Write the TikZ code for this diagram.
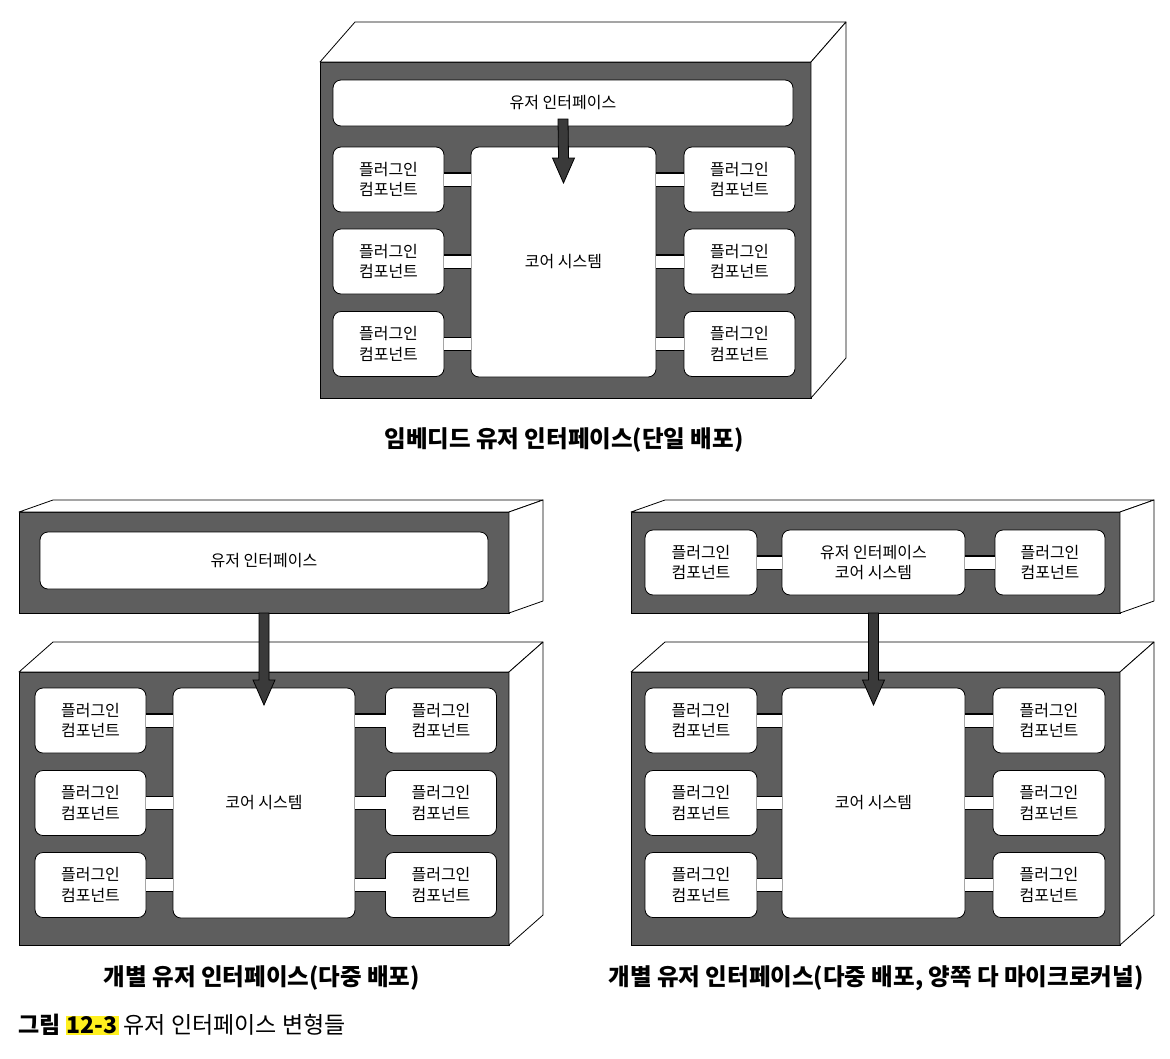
\documentclass[tikz,border=0pt]{standalone}
\usepackage{fontspec}
\setmainfont{Noto Sans CJK KR}
\usetikzlibrary{calc}
\definecolor{facegray}{RGB}{94,94,94}
\definecolor{arrowgray}{RGB}{58,58,58}
\definecolor{hlyellow}{RGB}{255,240,30}
\tikzset{
  frontface/.style={draw=black, line width=0.8pt, fill=facegray, inner sep=0pt, outer sep=0pt, anchor=north west},
  sideface/.style={draw=black, line width=0.8pt, fill=white, line join=round},
  comp/.style={draw=black, line width=0.8pt, fill=white, rounded corners=8pt, align=center,
    font=\fontsize{16}{20.5}\selectfont, inner sep=0pt, outer sep=0pt},
  plug/.style={comp, minimum width=111pt, minimum height=65pt},
  link/.style={draw=black, line width=1.1pt, double=white, double distance=12pt},
  fatarrow/.style={draw=black, line width=0.8pt, fill=arrowgray, line join=miter},
  captext/.style={font=\bfseries\fontsize{23.5}{27}\selectfont},
}
% sides of a box whose front face is node #1, depth (#2 right, #3 up)
\newcommand{\boxsides}[3]{%
  \draw[sideface] (#1.north west) -- ++(#2,-#3) -- ($(#1.north east)+(#2,-#3)$) -- (#1.north east) -- cycle;
  \draw[sideface] (#1.north east) -- ($(#1.north east)+(#2,-#3)$) -- ($(#1.south east)+(#2,-#3)$) -- (#1.south east) -- cycle;
}
% fat downward arrow from coordinate #1 to tip #2
\newcommand{\fatdown}[2]{%
  \draw[fatarrow] ($(#1)+(-5,0)$) -- ($(#2)+(-5,-25)$) -- ($(#2)+(-11,-25)$) -- (#2)
    -- ($(#2)+(11,-25)$) -- ($(#2)+(5,-25)$) -- ($(#1)+(5,0)$) -- cycle;
}
\begin{document}
\begin{tikzpicture}[x=1pt,y=-1pt]
\useasboundingbox[fill=white] (0,0) rectangle (1170,1058);

% ===================== TOP: embedded UI =====================
\node[frontface, minimum width=491pt, minimum height=336pt] (F0) at (320,62) {};
\boxsides{F0}{35}{40}
\node[comp, minimum width=460pt, minimum height=46pt] (ui0) at (563,103) {유저 인터페이스};
\node[comp, minimum width=185pt, minimum height=230pt] (core0) at (563.5,262) {코어 시스템};
\node[plug] (l01) at (388.5,179.5) {플러그인\\컴포넌트};
\node[plug] (l02) at (388.5,261.5) {플러그인\\컴포넌트};
\node[plug] (l03) at (388.5,344) {플러그인\\컴포넌트};
\node[plug] (r01) at (739.5,179.5) {플러그인\\컴포넌트};
\node[plug] (r02) at (739.5,261.5) {플러그인\\컴포넌트};
\node[plug] (r03) at (739.5,344) {플러그인\\컴포넌트};
\foreach \n in {l01,l02,l03} \draw[link] (\n.east) -- (\n.east -| core0.west);
\foreach \n in {r01,r02,r03} \draw[link] (\n.west) -- (\n.west -| core0.east);
\coordinate (a0s) at ($(ui0.south)+(0,-7)$);
\coordinate (a0e) at ($(core0.north)+(0,36)$);
\fatdown{a0s}{a0e}
\node[captext] (cap0) at (564,440) {임베디드 유저 인터페이스(단일 배포)};

% ===================== BOTTOM LEFT =====================
\node[frontface, minimum width=490pt, minimum height=101pt] (F1) at (19,512) {};
\boxsides{F1}{34}{12}
\node[comp, minimum width=448pt, minimum height=57pt] (ui1) at (264,560.5) {유저 인터페이스};
\node[frontface, minimum width=490pt, minimum height=273pt] (F2) at (19,672) {};
\boxsides{F2}{34}{30}
\node[comp, minimum width=182pt, minimum height=230pt] (core1) at (264,803) {코어 시스템};
\node[plug] (l11) at (90.5,720.5) {플러그인\\컴포넌트};
\node[plug] (l12) at (90.5,803) {플러그인\\컴포넌트};
\node[plug] (l13) at (90.5,885) {플러그인\\컴포넌트};
\node[plug] (r11) at (441,720.5) {플러그인\\컴포넌트};
\node[plug] (r12) at (441,803) {플러그인\\컴포넌트};
\node[plug] (r13) at (441,885) {플러그인\\컴포넌트};
\foreach \n in {l11,l12,l13} \draw[link] (\n.east) -- (\n.east -| core1.west);
\foreach \n in {r11,r12,r13} \draw[link] (\n.west) -- (\n.west -| core1.east);
\coordinate (a1s) at (ui1.south |- F1.south);
\coordinate (a1e) at ($(core1.north)+(0,17)$);
\fatdown{a1s}{a1e}
\node[captext] (cap1) at (262,978) {개별 유저 인터페이스(다중 배포)};

% ===================== BOTTOM RIGHT =====================
\node[frontface, minimum width=489pt, minimum height=101pt] (F3) at (631,512) {};
\boxsides{F3}{34}{12}
\node[plug, minimum width=112pt] (ul2) at (701,562.5) {플러그인\\컴포넌트};
\node[comp, minimum width=183pt, minimum height=65pt] (ui2) at (873.5,562.5) {유저 인터페이스\\코어 시스템};
\node[plug, minimum width=110pt] (ur2) at (1050,562.5) {플러그인\\컴포넌트};
\draw[link] (ul2.east) -- (ui2.west);
\draw[link] (ui2.east) -- (ur2.west);
\node[frontface, minimum width=489pt, minimum height=273pt] (F4) at (631,672) {};
\boxsides{F4}{34}{30}
\node[comp, minimum width=183pt, minimum height=230pt] (core2) at (873.5,803) {코어 시스템};
\node[plug, minimum width=112pt] (l21) at (701,720.5) {플러그인\\컴포넌트};
\node[plug, minimum width=112pt] (l22) at (701,803) {플러그인\\컴포넌트};
\node[plug, minimum width=112pt] (l23) at (701,885) {플러그인\\컴포넌트};
\node[plug, minimum width=112pt] (r21) at (1049,720.5) {플러그인\\컴포넌트};
\node[plug, minimum width=112pt] (r22) at (1049,803) {플러그인\\컴포넌트};
\node[plug, minimum width=112pt] (r23) at (1049,885) {플러그인\\컴포넌트};
\foreach \n in {l21,l22,l23} \draw[link] (\n.east) -- (\n.east -| core2.west);
\foreach \n in {r21,r22,r23} \draw[link] (\n.west) -- (\n.west -| core2.east);
\coordinate (a2s) at (ui2.south |- F3.south);
\coordinate (a2e) at ($(core2.north)+(0,17)$);
\fatdown{a2s}{a2e}
\node[captext] (cap2) at (876,978) {개별 유저 인터페이스(다중 배포, 양쪽 다 마이크로커널)};

% ===================== FIGURE CAPTION =====================
\node[anchor=west, inner sep=0pt, font=\fontsize{23}{27}\selectfont] (figcap) at (18,1025)
  {\textbf{그림} {\setlength{\fboxsep}{1pt}\colorbox{hlyellow}{\textbf{12-3}}} 유저 인터페이스 변형들};
\end{tikzpicture}
\end{document}
